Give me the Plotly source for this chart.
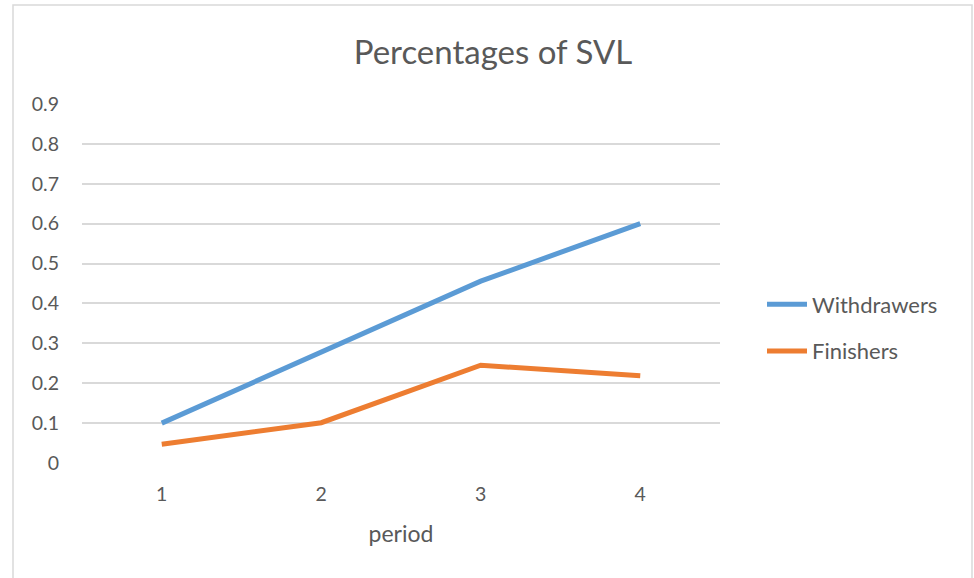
import plotly.graph_objects as go

periods = [1, 2, 3, 4]
withdrawers = [0.1, 0.277, 0.456, 0.6]
finishers = [0.047, 0.101, 0.245, 0.219]
y_ticks = [0, 0.1, 0.2, 0.3, 0.4, 0.5, 0.6, 0.7, 0.8, 0.9]
y_tick_labels = ["0", "0.1", "0.2", "0.3", "0.4", "0.5", "0.6", "0.7", "0.8", "0.9"]

FONT = "Lato, 'Open Sans', sans-serif"
TXT = "#595959"

fig = go.Figure()
fig.add_trace(go.Scatter(x=periods, y=withdrawers, mode="lines", name="Withdrawers",
                         legendgroup="w", line=dict(color="#5B9BD5", width=5)))
fig.add_trace(go.Scatter(x=periods, y=finishers, mode="lines", name="Finishers",
                         legendgroup="f", line=dict(color="#ED7D31", width=5)))

W, H = 974, 578
L, R, T, B = 82, 254, 104, 115
pw, ph = W - L - R, H - T - B

def px_to_paper_x(px):
    return (px - L) / pw

def px_to_paper_y(py):
    return (H - B - py) / ph

fig.update_layout(
    width=W, height=H,
    margin=dict(l=L, r=R, t=T, b=B),
    paper_bgcolor="white", plot_bgcolor="white",
    font=dict(family=FONT, color=TXT, size=19),
    title=dict(text="Percentages of SVL", x=493 / W, xanchor="center", xref="container",
               y=1 - 52 / H, yanchor="middle", yref="container",
               font=dict(family=FONT, size=33, color=TXT)),
    xaxis=dict(range=[0.5, 4.5], tickvals=periods, ticktext=[str(p) for p in periods],
               showgrid=False, zeroline=False, showline=False, ticks="",
               ticklabelstandoff=17,
               tickfont=dict(size=19.5, color=TXT),
               title=dict(text="period", font=dict(size=23, color=TXT), standoff=22)),
    yaxis=dict(range=[0, 0.9], tickvals=y_ticks, ticktext=y_tick_labels,
               showgrid=True, gridcolor="#D9D9D9", gridwidth=1.5, zeroline=False,
               showline=False, ticks="", ticklabelstandoff=22,
               tickfont=dict(size=19.5, color=TXT)),
    legend=dict(x=px_to_paper_x(762), y=px_to_paper_y(328), xanchor="left", yanchor="middle",
                font=dict(size=22, color=TXT), itemwidth=40, tracegroupgap=15,
                bgcolor="rgba(0,0,0,0)"),
    showlegend=True,
)

fig.add_shape(type="rect", xref="paper", yref="paper",
              x0=px_to_paper_x(13), x1=px_to_paper_x(972),
              y0=px_to_paper_y(600), y1=px_to_paper_y(5),
              line=dict(color="#D9D9D9", width=1.5), fillcolor="rgba(0,0,0,0)", layer="below")

fig.write_html("out.html", config={"displayModeBar": False},
               post_script="document.body.style.margin='0';")
